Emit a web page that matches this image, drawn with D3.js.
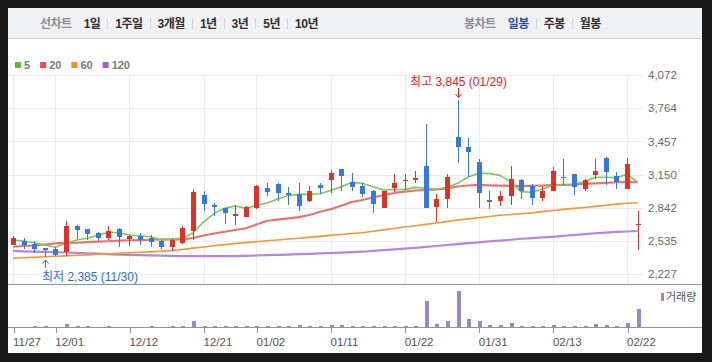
<!DOCTYPE html>
<html><head><meta charset="utf-8">
<script src="https://cdn.jsdelivr.net/npm/d3@7"></script>
<style>
html,body{margin:0;padding:0;background:#181818;overflow:hidden}
svg{display:block}
text{font-family:"Liberation Sans","Noto Sans CJK KR",sans-serif}
</style></head><body>
<svg id="c" width="712" height="362"></svg>
<script>
// ---------- DATA ----------
const dates = ["11/27","11/28","11/29","11/30",
 "12/01","12/04","12/05","12/06","12/07","12/08","12/11","12/12","12/13","12/14","12/15","12/18","12/19","12/20","12/21","12/22","12/26","12/27","12/28",
 "01/02","01/03","01/04","01/05","01/08","01/09","01/10","01/11","01/12","01/15","01/16","01/17","01/18","01/19","01/22","01/23","01/24","01/25","01/26","01/29","01/30","01/31",
 "02/01","02/02","02/05","02/06","02/07","02/08","02/13","02/14","02/15","02/16","02/19","02/20","02/21","02/22","02/23"];
const openP = [2501,2535,2507,2468,2461,2436,2674,2646,2609,2566,
 2646,2551,2581,2566,2535,2482,2514,2628,2961,2868,
 2841,2770,2760,2843,3026,3063,2980,2973,2908,3054,
 3100,3202,3081,3044,2998,2843,3029,3091,3100,3230,
 2853,2927,3498,3405,3267,2915,2908,2952,3100,3047,
 2936,3001,3128,3155,3017,3146,3304,3137,3017,2685];
const highP = [2581,2563,2535,2470,2477,2720,2680,2650,2621,2674,
 2656,2590,2609,2591,2540,2550,2674,3015,2998,2887,
 2845,2868,2859,3050,3072,3068,3032,3072,3044,3075,
 3192,3205,3167,3069,3005,3000,3155,3155,3183,3621,
 2970,3155,3845,3486,3292,2998,2998,3230,3105,3063,
 3044,3220,3294,3160,3109,3294,3310,3174,3304,2813];
const lowP = [2498,2461,2421,2385,2395,2396,2554,2545,2535,2545,
 2482,2489,2498,2482,2464,2443,2505,2545,2816,2767,
 2693,2683,2755,2829,2952,2908,2868,2816,2899,2968,
 2977,3001,3001,2945,2797,2840,2992,3007,3075,2840,
 2714,2843,3260,3125,2843,2834,2859,2868,2924,2868,
 2908,2998,3054,2961,2998,3109,3054,3017,3017,2452];
const closeP = [2560,2495,2461,2452,2408,2674,2637,2603,2566,2628,
 2575,2584,2547,2526,2482,2545,2653,2990,2878,2850,
 2797,2785,2850,3044,2989,2980,2961,2859,2998,3029,
 3167,3140,3038,2973,2880,2998,3072,3100,3118,2843,
 2924,3128,3408,3362,2982,2899,2952,3109,2998,2936,
 3001,3183,3121,3038,3100,3183,3177,3081,3248,2693];
const volume = [40000,30000,50000,60000,40000,330000,130000,50000,40000,130000,
 30000,40000,30000,50000,40000,60000,70000,630000,130000,130000,
 60000,130000,70000,130000,130000,130000,130000,230000,130000,130000,
 230000,230000,130000,130000,60000,70000,130000,130000,130000,2630000,
 330000,630000,3630000,830000,630000,230000,230000,430000,130000,130000,
 130000,230000,130000,130000,130000,330000,230000,130000,430000,1830000];
const ma5 = [2544,2535,2519,2498,2477,2514,2544,2560,2588,2616,
 2612,2591,2581,2575,2544,2551,2560,2609,2711,2792,
 2838,2859,2838,2864,2887,2924,2956,2967,2967,2972,
 3003,3038,3077,3069,3038,3007,3012,3012,3032,3023,
 3017,3030,3069,3128,3162,3160,3143,3084,2992,2986,
 3014,3051,3051,3063,3084,3125,3125,3121,3154,3077];
const ma20 = [2482,2489,2495,2503,2513,2517,2519,2524,2529,2533,
 2538,2542,2544,2547,2551,2551,2551,2563,2586,2605,
 2621,2637,2653,2688,2723,2734,2745,2757,2776,2806,
 2829,2861,2896,2915,2938,2961,2980,2993,3003,3007,
 3012,3023,3040,3049,3054,3051,3048,3046,3044,3046,
 3049,3052,3054,3058,3066,3069,3074,3079,3080,3079];
const ma60 = [2375,2380,2384,2389,2394,2398,2403,2407,2412,2417,
 2421,2426,2431,2435,2441,2446,2457,2469,2480,2491,
 2502,2512,2520,2529,2537,2545,2554,2561,2569,2578,
 2587,2595,2604,2612,2625,2638,2651,2665,2677,2689,
 2702,2715,2729,2740,2750,2762,2773,2781,2788,2796,
 2807,2818,2828,2837,2846,2856,2866,2877,2885,2890];
const ma120 = [2443,2440,2437,2434,2432,2429,2425,2421,2418,2414,
 2410,2407,2405,2402,2400,2398,2396,2396,2396,2396,
 2396,2396,2398,2401,2405,2407,2410,2413,2417,2420,
 2424,2428,2432,2436,2443,2450,2457,2465,2472,2480,
 2489,2498,2507,2515,2523,2531,2539,2547,2556,2562,
 2568,2574,2582,2591,2599,2607,2613,2619,2623,2628];
const priceTicks = [2227,2535,2842,3150,3457,3764,4072];
const dateTicks = ["11/27","12/01","12/12","12/21","01/02","01/11","01/22","01/31","02/13","02/22"];
const periodTabs = ["1일","1주일","3개월","1년","3년","5년","10년"];
const candleTabs = ["일봉","주봉","월봉"];
const maNames = ["5","20","60","120"];
const maColors = ["#5cbf3c","#ef4848","#f5901e","#9d5fd3"];
const maSeries = [ma5, ma20, ma60, ma120];
const highLabel = "최고 3,845 (01/29)";
const lowLabel = "최저 2,385 (11/30)";
const highIdx = 42, lowIdx = 3;

// ---------- DRAW ----------
const svg = d3.select("#c");
const UP = "#e0302a", DOWN = "#3479df";

svg.append("rect").attr("x",0).attr("y",0).attr("width",712).attr("height",362).attr("fill","#181818");
svg.append("rect").attr("x",8).attr("y",8).attr("width",694).attr("height",345).attr("fill","#fff");

// header
svg.append("rect").attr("x",8).attr("y",8).attr("width",694).attr("height",30).attr("fill","#f0f1f5");
svg.append("line").attr("x1",8).attr("x2",702).attr("y1",38.5).attr("y2",38.5).attr("stroke","#cbccd2");

function tabRow(x0, title, tabs, activeIdx) {
  const g = svg.append("g");
  const t = g.append("text").attr("x",x0).attr("y",28).attr("font-size",12).attr("font-weight","bold")
    .attr("letter-spacing",-0.5).attr("fill","#8c8c8c").text(title);
  let x = x0 + t.node().getComputedTextLength() + 12;
  tabs.forEach((s,i) => {
    const tt = g.append("text").attr("x",x).attr("y",28).attr("font-size",12).attr("font-weight","bold")
      .attr("fill", i===activeIdx ? "#2b4f9f" : "#2e2e2e").attr("letter-spacing",-0.5).text(s);
    x += tt.node().getComputedTextLength();
    if (i < tabs.length-1) {
      x += 7;
      g.append("line").attr("x1",Math.round(x)+0.5).attr("x2",Math.round(x)+0.5).attr("y1",18).attr("y2",29).attr("stroke","#d3d4d8");
      x += 8;
    }
  });
}
tabRow(40, "선차트", periodTabs, -1);
tabRow(464, "봉차트", candleTabs, 0);

// scales
const x = d3.scalePoint().domain(dates).range([13, 637.6]);
const y = d3.scaleLinear().domain([2227, 4072]).range([274.3, 75]);
const yv = d3.scaleLinear().domain([0, d3.max(volume)*1.157]).range([327, 285]);

// grid
const grid = svg.append("g").attr("shape-rendering","crispEdges");
grid.selectAll("line.h").data(priceTicks).join("line")
  .attr("x1",8).attr("x2",643).attr("y1",d=>Math.round(y(d))+0.5).attr("y2",d=>Math.round(y(d))+0.5)
  .attr("stroke","#ebebeb");
grid.selectAll("line.v").data(dateTicks).join("line")
  .attr("x1",d=>Math.round(x(d))+0.5).attr("x2",d=>Math.round(x(d))+0.5).attr("y1",75).attr("y2",284)
  .attr("stroke","#ebebeb");

// price axis labels
const yAxis = d3.axisRight(y).tickValues(priceTicks).tickFormat(d3.format(",")).tickSize(0).tickPadding(0);
const ya = svg.append("g").attr("transform","translate(648,0)").call(yAxis);
ya.select(".domain").remove();
ya.selectAll("text").attr("font-size",11.5).attr("fill","#6a6a6a").attr("font-family","Liberation Sans, sans-serif");

// legend
let lx = 15;
maNames.forEach((n,i) => {
  svg.append("rect").attr("x",lx).attr("y",62).attr("width",6).attr("height",6).attr("fill",maColors[i]);
  const t = svg.append("text").attr("x",lx+9).attr("y",69).attr("font-size",11).attr("font-weight","bold").attr("fill","#7a7a7a").text(n);
  lx = lx + 9 + t.node().getComputedTextLength() + 10;
});

// MA lines
const lineGen = arr => d3.line().x((d,i)=>x(dates[i])).y(d=>y(d))(arr);
const maWidths = [1.6, 2.2, 1.6, 2.2];
const maStroke = ["#7ac95a","#f07070","#f5962e","#b486de"];
[3,2,1,0].forEach(k => {
  svg.append("path").attr("d", lineGen(maSeries[k])).attr("fill","none")
    .attr("stroke", maStroke[k]).attr("stroke-width", maWidths[k]).attr("stroke-linejoin","round");
});

// candles
const cg = svg.append("g").attr("shape-rendering","crispEdges");
dates.forEach((d,i) => {
  const cx = Math.round(x(d));
  const col = closeP[i] >= openP[i] ? UP : DOWN;
  cg.append("line").attr("x1",cx+0.5).attr("x2",cx+0.5)
    .attr("y1",Math.round(y(highP[i]))).attr("y2",Math.round(y(lowP[i])))
    .attr("stroke",col).attr("stroke-width",1);
  const top = Math.round(y(Math.max(openP[i],closeP[i])));
  const bot = Math.round(y(Math.min(openP[i],closeP[i])));
  cg.append("rect").attr("x",cx-2).attr("y",top).attr("width",5).attr("height",Math.max(1,bot-top)).attr("fill",col);
});

// high / low annotations
const hx = Math.round(x(dates[highIdx]))+0.5;
svg.append("text").attr("x",hx).attr("y",86).attr("text-anchor","middle").attr("font-size",12).attr("fill","#e8201c").text(highLabel);
svg.append("line").attr("x1",hx).attr("x2",hx).attr("y1",88).attr("y2",97).attr("stroke","#e8201c");
svg.append("path").attr("d",`M${hx-3},${94} L${hx},${97.5} L${hx+3},${94}`).attr("fill","none").attr("stroke","#e8201c");
const lxp = Math.round(x(dates[lowIdx]))+0.5;
svg.append("line").attr("x1",lxp).attr("x2",lxp).attr("y1",260).attr("y2",268).attr("stroke","#2f6fd8");
svg.append("path").attr("d",`M${lxp-3},${263.5} L${lxp},${260} L${lxp+3},${263.5}`).attr("fill","none").attr("stroke","#2f6fd8");
svg.append("text").attr("x",lxp-3.5).attr("y",281).attr("font-size",12).attr("fill","#2f6fd8").text(lowLabel);

// volume panel
svg.append("line").attr("x1",8).attr("x2",702).attr("y1",284.5).attr("y2",284.5).attr("stroke","#8f949b");
const vg = svg.append("g").attr("shape-rendering","crispEdges");
vg.selectAll("rect").data(volume).join("rect")
  .attr("x",(v,i)=>Math.round(x(dates[i]))-1)
  .attr("y",v=>Math.round(yv(v)))
  .attr("width",4)
  .attr("height",v=>327-Math.round(yv(v)))
  .attr("fill","#9b86c6");
svg.append("rect").attr("x",661).attr("y",293).attr("width",3).attr("height",8).attr("fill","#9b86c6");
svg.append("text").attr("x",666).attr("y",301).attr("font-size",11).attr("fill","#555").text("거래량");

// x axis
const xAxis = d3.axisBottom(x).tickValues(dateTicks).tickSize(5).tickPadding(3);
const xa = svg.append("g").attr("transform","translate(0,327.5)").call(xAxis);
xa.select(".domain").remove();
xa.selectAll(".tick line").attr("stroke","#8f949b").attr("shape-rendering","crispEdges")
  .attr("transform","translate(0.5,0)");
xa.selectAll(".tick text").attr("text-anchor","start").attr("font-size",11.5).attr("fill","#555").attr("dx",-0.5).attr("dy","0.9em")
  .attr("font-family","Liberation Sans, sans-serif");
svg.append("line").attr("x1",8).attr("x2",702).attr("y1",327.5).attr("y2",327.5).attr("stroke","#8f949b");
</script>
</body></html>
